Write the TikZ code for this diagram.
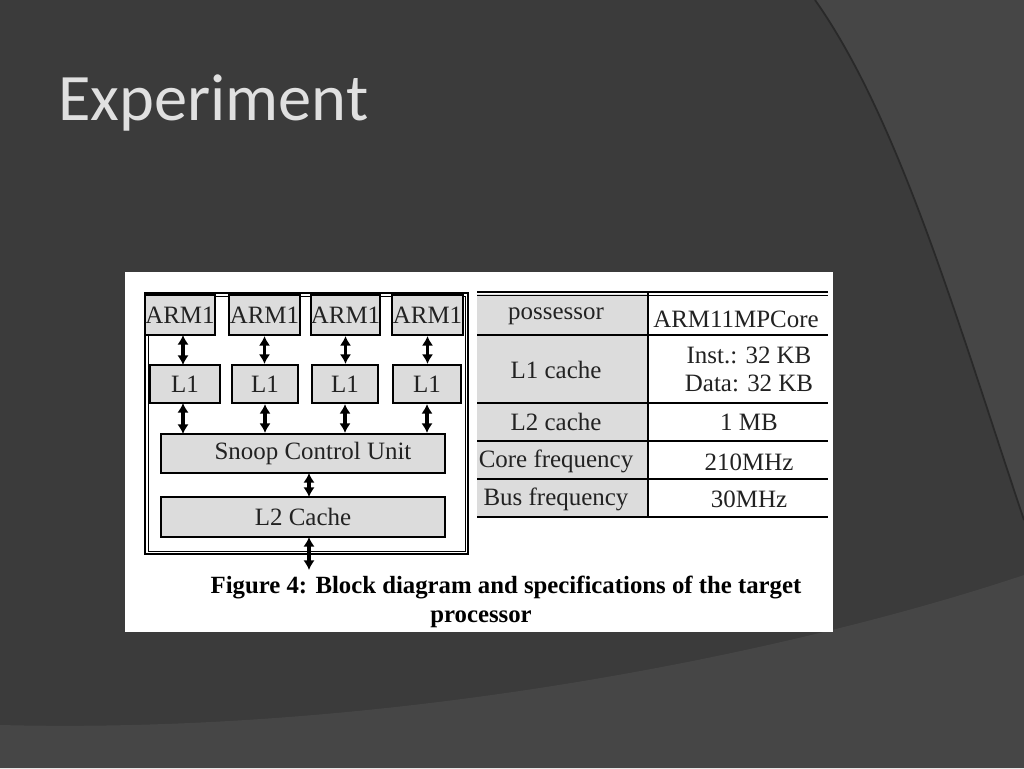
\documentclass[tikz,border=0pt]{standalone}
\usepackage{fontspec}
\setmainfont{Liberation Serif}
\newfontfamily\titlefont{Carlito}
\usetikzlibrary{arrows.meta}
\definecolor{BgClr}{HTML}{3B3B3B}
\definecolor{ArcClr}{HTML}{464646}
\definecolor{BoxClr}{HTML}{DCDCDC}
\definecolor{TxtClr}{HTML}{222222}

\begin{document}
\begin{tikzpicture}[x=0.02cm,y=-0.02cm,
  blk/.style={draw=black,line width=1.2pt,fill=BoxClr,inner sep=0pt,font=\fontsize{14.2}{16}\selectfont,text=TxtClr},
  cell/.style={font=\fontsize{14.2}{16}\selectfont,text=TxtClr,inner sep=0pt},
  link/.style={{Latex[length=5.5pt,width=6.5pt]}-{Latex[length=5.5pt,width=6.5pt]},line width=1.8pt}]
\useasboundingbox (0,0) rectangle (1024,768);
\fill[BgClr] (0,0) rectangle (1024,768);
% background arcs
\fill[ArcClr] (815,0) .. controls (900,120) and (960,330) .. (1024,520) -- (1024,0) -- cycle;
\fill[ArcClr] (0,725) .. controls (400,735) and (800,650) .. (1024,575) -- (1024,768) -- (0,768) -- cycle;
\draw[BgClr!70!black,line width=1pt] (815,0) .. controls (900,120) and (960,330) .. (1024,520);

\node[anchor=base west,text=white!88!black,font=\titlefont\fontsize{37.8}{42}\selectfont,inner sep=0pt] (title) at (58,120) {Experiment};

% white panel
\fill[white] (125,272) rectangle (833,632);

% block diagram
\draw[line width=1.3pt] (145,293) rectangle (468,554);
\draw[line width=0.5pt] (148,296) rectangle (465,551);
\node[blk,minimum width=1.28cm,minimum height=0.8cm] (arma) at (180,315) {ARM1};
\node[blk,minimum width=1.42cm,minimum height=0.8cm] (armb) at (264.5,315) {ARM1};
\node[blk,minimum width=1.38cm,minimum height=0.8cm] (armc) at (345.5,315) {ARM1};
\node[blk,minimum width=1.42cm,minimum height=0.8cm] (armd) at (427.5,315) {ARM1};
\node[blk,minimum width=1.40cm,minimum height=0.76cm] (lia) at (185,384) {L1};
\node[blk,minimum width=1.32cm,minimum height=0.76cm] (lib) at (265,384) {L1};
\node[blk,minimum width=1.32cm,minimum height=0.76cm] (lic) at (345,384) {L1};
\node[blk,minimum width=1.36cm,minimum height=0.76cm] (lid) at (427,384) {L1};
\node[blk,minimum width=5.68cm,minimum height=0.78cm] (snoop) at (303,453.5) {\hspace*{0.4cm}Snoop Control Unit};
\node[blk,minimum width=5.68cm,minimum height=0.8cm] (ltwo) at (303,517) {L2 Cache};
\coordinate (sx) at (309,473);
\coordinate (lx) at (309,497);
\coordinate (bx) at (309,537);
\coordinate (out) at (309,570);

\draw[link] (183,335) -- (183,365);
\draw[link] (armb.south) -- (armb.south |- lib.north);
\draw[link] (armc.south) -- (armc.south |- lic.north);
\draw[link] (armd.south) -- (armd.south |- lid.north);
\draw[link] (183,403) -- (183,434);
\draw[link] (lib.south) -- (lib.south |- snoop.north);
\draw[link] (lic.south) -- (lic.south |- snoop.north);
\draw[link] (lid.south) -- (lid.south |- snoop.north);
\draw[link] (sx) -- (lx);
\draw[link] (bx) -- (out);

% table
\fill[BoxClr] (477,294) rectangle (648,517);
\draw[line width=1.2pt] (477,292) -- (828,292);
\draw[line width=0.5pt] (477,295) -- (828,295);
\foreach \y in {335,403,441,479,517}
  \draw[line width=1pt] (477,\y) -- (828,\y);
\draw[line width=1pt] (648,292) -- (648,517);

\node[cell] (pname) at (556,316) {possessor};
\node[cell] (pval) at (736,319) {ARM11MPCore};
\node[cell] (lname) at (556,370) {L1 cache};
\node[cell] (lvala) at (749,355) {Inst.: 32 KB};
\node[cell] (lvalb) at (749,383) {Data: 32 KB};
\node[cell] (mname) at (556,422) {L2 cache};
\node[cell] (mval) at (749,422) {1 MB};
\node[cell] (cname) at (556,461) {Core frequency};
\node[cell] (cval) at (749,462) {210MHz};
\node[cell] (bname) at (556,499) {Bus frequency};
\node[cell] (bval) at (749,499) {30MHz};

% caption
\node[font=\bfseries\fontsize{14.1}{16}\selectfont,inner sep=0pt] (capa) at (506,588) {Figure 4: Block diagram and specifications of the target};
\node[font=\bfseries\fontsize{14.1}{16}\selectfont,inner sep=0pt] (capb) at (481,619) {processor};
\end{tikzpicture}
\end{document}
